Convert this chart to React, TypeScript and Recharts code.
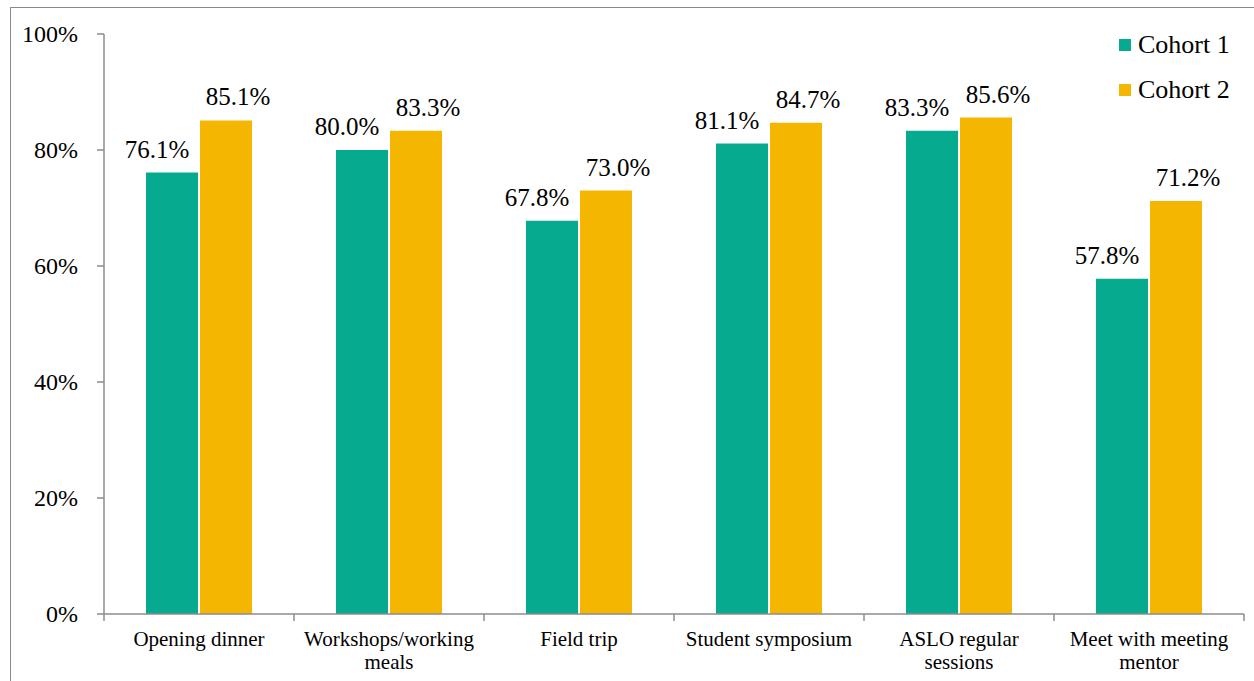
import React from 'react';
import { BarChart, Bar, XAxis, YAxis, LabelList } from 'recharts';

const categories = [
  'Opening dinner',
  'Workshops/working\nmeals',
  'Field trip',
  'Student symposium',
  'ASLO regular\nsessions',
  'Meet with meeting\nmentor',
];
const cohort1 = [76.1, 80.0, 67.8, 81.1, 83.3, 57.8];
const cohort2 = [85.1, 83.3, 73.0, 84.7, 85.6, 71.2];
const yTicks = [0, 20, 40, 60, 80, 100];

const GREEN = '#06AB8F';
const YELLOW = '#F5B602';
const AXIS = '#8c8c8c';
const FONT = 'Liberation Serif, serif';

const W = 1254;
const H = 681;
const LEFT = 104;
const RIGHT = 10;
const BAND = (W - LEFT - RIGHT) / categories.length;

const data = categories.map((name, i) => ({
  name,
  c1: cohort1[i],
  c2: cohort2[i],
}));

const CategoryTick = ({ x, y, payload, index }: any) => {
  const lines = String(payload.value).split('\n');
  return (
    <g>
      <line x1={x - BAND / 2} y1={y} x2={x - BAND / 2} y2={y + 7} stroke={AXIS} strokeWidth={1.5} />
      {index === categories.length - 1 && (
        <line x1={x + BAND / 2} y1={y} x2={x + BAND / 2} y2={y + 7} stroke={AXIS} strokeWidth={1.5} />
      )}
      <text x={x} y={y + 32} textAnchor="middle" style={{ fontFamily: FONT, fontSize: 21 }} fill="#000">
        {lines.map((l, i) => (
          <tspan key={i} x={x} dy={i === 0 ? 0 : 23}>
            {l}
          </tspan>
        ))}
      </text>
    </g>
  );
};

const ValueTick = ({ x, y, payload }: any) => (
  <text x={x} y={y} dy={8} textAnchor="end" style={{ fontFamily: FONT, fontSize: 24 }} fill="#000">
    {`${payload.value}%`}
  </text>
);

const makeLabel = (dx: number) => (props: any) => {
  const { x, y, width, value } = props;
  return (
    <text
      x={x + width / 2 + dx}
      y={y - 15}
      textAnchor="middle"
      style={{ fontFamily: FONT, fontSize: 25 }}
      fill="#000"
    >
      {`${Number(value).toFixed(1)}%`}
    </text>
  );
};

const legendItems = [
  { label: 'Cohort 1', color: GREEN },
  { label: 'Cohort 2', color: YELLOW },
];

export default function App() {
  return (
    <div style={{ position: 'absolute', left: 0, top: 0, width: W, height: H, overflow: 'hidden', background: '#fff' }}>
      <div
        style={{
          position: 'absolute',
          left: 10,
          top: 7,
          width: 1400,
          height: 800,
          border: '1.5px solid #8a8a8a',
          boxSizing: 'border-box',
        }}
      />
      <div style={{ position: 'absolute', left: 0, top: 0 }}>
        <BarChart
          width={W}
          height={H}
          data={data}
          margin={{ top: 34, right: RIGHT, left: 0, bottom: 0 }}
          barCategoryGap={42}
          barGap={2}
        >
          <XAxis
            dataKey="name"
            height={67}
            interval={0}
            tickLine={false}
            tickSize={0}
            tickMargin={0}
            axisLine={{ stroke: AXIS, strokeWidth: 1.5 }}
            tick={<CategoryTick />}
          />
          <YAxis
            width={LEFT}
            domain={[0, 100]}
            ticks={yTicks}
            interval={0}
            tickSize={7}
            tickMargin={19}
            axisLine={{ stroke: AXIS, strokeWidth: 1.5 }}
            tickLine={{ stroke: AXIS, strokeWidth: 1.5 }}
            tick={<ValueTick />}
          />
          <Bar dataKey="c1" name="Cohort 1" fill={GREEN} isAnimationActive={false}>
            <LabelList dataKey="c1" content={makeLabel(-15)} />
          </Bar>
          <Bar dataKey="c2" name="Cohort 2" fill={YELLOW} isAnimationActive={false}>
            <LabelList dataKey="c2" content={makeLabel(12)} />
          </Bar>
        </BarChart>
      </div>
      <div
        style={{
          position: 'absolute',
          left: 1119,
          top: 22,
          fontFamily: FONT,
          fontSize: 26,
          color: '#000',
          lineHeight: '45px',
        }}
      >
        {legendItems.map((it) => (
          <div key={it.label} style={{ display: 'flex', alignItems: 'center', whiteSpace: 'nowrap' }}>
            <span style={{ width: 12, height: 12, background: it.color, marginRight: 7, display: 'inline-block' }} />
            {it.label}
          </div>
        ))}
      </div>
    </div>
  );
}
